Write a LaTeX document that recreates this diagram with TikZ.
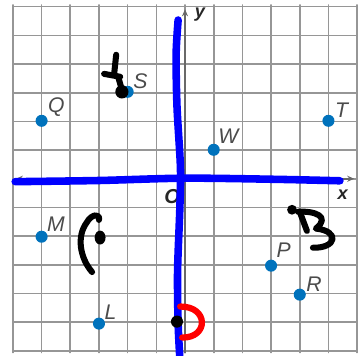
\documentclass[tikz,border=0pt]{standalone}
\usepackage{fontspec}
\setsansfont{Liberation Sans}
\usetikzlibrary{positioning}
\usetikzlibrary{positioning, arrows.meta}

\definecolor{gridgray}{RGB}{150,150,150}
\definecolor{axisgray}{RGB}{105,105,105}
\definecolor{dotblue}{RGB}{0,114,188}
\definecolor{penblue}{RGB}{0,0,255}
\definecolor{labelgray}{RGB}{75,75,75}
\definecolor{penred}{RGB}{255,0,0}

\begin{document}
\begin{tikzpicture}[x=1cm, y=1.01cm, line cap=round, line join=round]
        % Define styles for points and strokes
        \tikzstyle{plotpt} = [circle, fill=dotblue, inner sep=0pt, minimum size=0.42cm]
        \tikzstyle{ptlabel} = [font=\sffamily\itshape\fontsize{21}{21}\selectfont, text=labelgray, inner sep=0pt]
        \tikzstyle{axislabel} = [font=\sffamily\bfseries\itshape\fontsize{18}{18}\selectfont, text=black!85, inner sep=0pt]
        \tikzstyle{bluepen} = [draw=penblue, line width=7.5pt]
        \tikzstyle{inkpen} = [draw=black, line width=6pt]
        \tikzstyle{redpen} = [draw=penred, line width=6.2pt]
        \useasboundingbox (-6.45,-6.10) rectangle (6.10,6.17);

        % Draw grid and axes
        \draw[gridgray, line width=1.6pt] (-6,-6) grid (6,6);
        \draw[axisgray, line width=1.8pt, {Stealth[length=7pt,width=6pt]}-{Stealth[length=7pt,width=6pt]}] (-5.9,0) -- (5.9,0);
        \draw[axisgray, line width=1.8pt, -{Stealth[length=7pt,width=6pt]}] (0,-6) -- (0,5.85);
        \node[axislabel] (ylab) at (0.52,5.66) {y};
        \node[axislabel] (xlab) at (5.5,-0.55) {x};
        \node[axislabel, font=\sffamily\bfseries\itshape\fontsize{20}{20}\selectfont] (olab) at (-0.45,-0.62) {O};

        % Draw points
        \node[plotpt] (q) at (-5,2) {};
        \node[plotpt] (s) at (-2,3) {};
        \node[plotpt] (w) at (1,1) {};
        \node[plotpt] (t) at (5,2) {};
        \node[plotpt] (m) at (-5,-2) {};
        \node[plotpt] (l) at (-3,-5) {};
        \node[plotpt] (p) at (3,-3) {};
        \node[plotpt] (r) at (4,-4) {};
        \node[ptlabel, above right=0pt and 2pt of q] (qlab) {Q};
        \node[ptlabel, above right=-1pt and 1pt of s] (slab) {S};
        \node[ptlabel, above right=2pt and 0pt of w] (wlab) {W};
        \node[ptlabel, above right=-1pt and 2pt of t] (tlab) {T};
        \node[ptlabel, above right=1pt and 1pt of m] (mlab) {M};
        \node[ptlabel, above right=0pt and 1pt of l] (llab) {L};
        \node[ptlabel, above right=4pt and 1pt of p] (plab) {P};
        \node[ptlabel, above right=-1pt and 2pt of r] (rlab) {R};

        % Hand drawn axes
        \draw[bluepen] plot[smooth] coordinates {(-0.24,5.48) (-0.31,4.3) (-0.28,2.5) (-0.16,0.4) (-0.18,-1) (-0.26,-3.2) (-0.24,-5) (-0.18,-6.2)};
        \draw[bluepen] plot[smooth] coordinates {(-5.92,-0.1) (-3,-0.06) (0,0.02) (3.2,-0.02) (5.4,-0.07)};

        % Hand drawn letters
        \draw[inkpen] (-2.40,4.28) -- (-2.47,3.62);
        \draw[inkpen] (-2.82,3.62) -- (-2.26,3.52);
        \draw[inkpen] (-2.33,3.52) -- (-2.18,3.0);
        \fill (-2.2,3.0) circle (0.23);

        \draw[inkpen] (-3.0,-1.42) .. controls (-2.95,-1.2) and (-3.25,-1.2) .. (-3.42,-1.5) .. controls (-3.8,-2.0) and (-3.65,-2.75) .. (-3.24,-3.22);
        \fill (-2.96,-2.03) ellipse (0.19 and 0.24);

        \fill (3.73,-1.07) circle (0.17);
        \draw[inkpen] (4.0,-1.14) -- (4.25,-1.8);
        \draw[inkpen] (3.94,-1.14) .. controls (4.5,-1.1) and (5.1,-1.3) .. (4.56,-1.72) .. controls (5.4,-1.8) and (5.3,-2.4) .. (4.46,-2.38);

        \draw[redpen] (-0.17,-4.41) .. controls (0.83,-4.4) and (0.83,-5.5) .. (-0.10,-5.48);
        \fill (-0.28,-4.93) circle (0.21);
\end{tikzpicture}
\end{document}
